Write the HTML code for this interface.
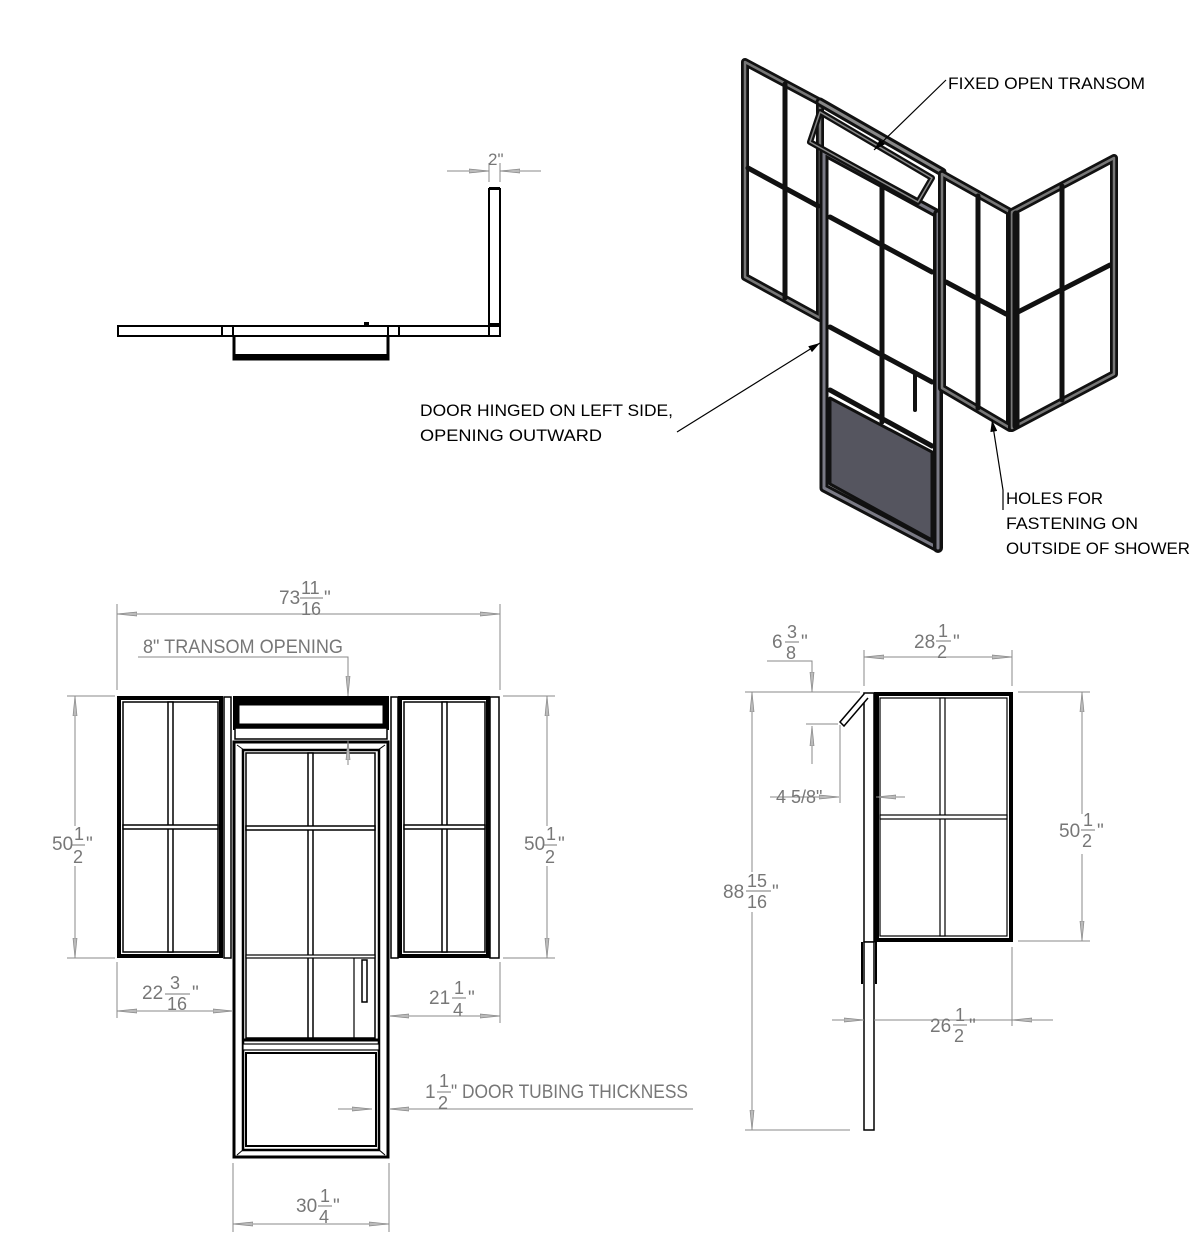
<!DOCTYPE html>
<html><head><meta charset="utf-8"><style>
html,body{margin:0;padding:0;background:#fff}
svg{display:block}
.t{font-family:"Liberation Sans",sans-serif;fill:#000}
.d{font-family:"Liberation Sans",sans-serif;fill:#777}
</style></head><body>
<svg width="1200" height="1243" viewBox="0 0 1200 1243" xmlns="http://www.w3.org/2000/svg">
<defs>
<marker id="a" viewBox="0 0 20 6" refX="20" refY="3" markerWidth="20" markerHeight="6" markerUnits="userSpaceOnUse" orient="auto-start-reverse">
<path d="M0,1 L20,3 L0,5 Z" fill="#bbb" stroke="#888" stroke-width="0.7"/></marker>
<marker id="b" viewBox="0 0 10 6" refX="10" refY="3" markerWidth="12" markerHeight="7" markerUnits="userSpaceOnUse" orient="auto">
<path d="M0,0 L10,3 L0,6 Z" fill="#000"/></marker>
</defs>
<rect width="1200" height="1243" fill="#fff"/>

<!-- ===== PLAN VIEW ===== -->
<g stroke="#000" fill="#fff" stroke-width="2">
<rect x="118" y="326" width="104" height="10"/>
<rect x="222" y="326" width="11" height="10"/>
<rect x="233" y="326" width="155" height="10"/>
<rect x="388" y="326" width="11" height="10"/>
<rect x="399" y="326" width="90" height="10"/>
<rect x="489" y="326" width="11" height="10"/>
<rect x="489" y="189" width="11" height="137"/>
</g>
<rect x="489" y="187" width="11" height="3" fill="#000"/>
<rect x="489" y="323" width="11" height="4" fill="#000"/>
<rect x="364" y="322" width="5" height="3" fill="#000"/>
<path d="M234,336 V359 H388 V336" fill="none" stroke="#000" stroke-width="3"/>
<rect x="234" y="354" width="155" height="6" fill="#000"/>
<g stroke="#888" stroke-width="1" fill="none">
<line x1="447" y1="171" x2="489" y2="171" marker-end="url(#a)"/>
<line x1="541" y1="171" x2="500" y2="171" marker-end="url(#a)"/>
<line x1="489" y1="163" x2="489" y2="182"/><line x1="500" y1="163" x2="500" y2="182"/>
</g>
<text class="d" x="488" y="165" font-size="17">2"</text>

<!-- ===== FRONT ELEVATION ===== -->
<rect x="119" y="698" width="102" height="258" fill="none" stroke="#000" stroke-width="4"/>
<rect x="123" y="702" width="95" height="250" fill="none" stroke="#000" stroke-width="1.5"/>
<rect x="168" y="702" width="5" height="250" fill="#fff" stroke="#000" stroke-width="1.5"/>
<rect x="123" y="825" width="95" height="4" fill="#fff" stroke="#000" stroke-width="1.5"/>
<rect x="224" y="697" width="7" height="261" fill="#fff" stroke="#000" stroke-width="1.5"/>
<rect x="233" y="696" width="156" height="34" fill="#000"/>
<rect x="239" y="705" width="144" height="19" fill="#fff" stroke="#000" stroke-width="1"/>
<rect x="235" y="728" width="152" height="11" fill="#fff" stroke="#000" stroke-width="1.5"/>
<rect x="234" y="742" width="154" height="415" fill="none" stroke="#000" stroke-width="3"/>
<path d="M237,745 L244,750 M385,745 L378,750 M237,1155 L244,1149 M385,1155 L378,1149" stroke="#000" stroke-width="1"/>
<rect x="243" y="750" width="136" height="400" fill="none" stroke="#000" stroke-width="2.5"/>
<rect x="246" y="753" width="129" height="285" fill="none" stroke="#000" stroke-width="1.5"/>
<rect x="308" y="753" width="5" height="285" fill="#fff" stroke="#000" stroke-width="1.5"/>
<rect x="246" y="826" width="129" height="4" fill="#fff" stroke="#000" stroke-width="1.5"/>
<rect x="246" y="955" width="129" height="3" fill="#fff" stroke="#000" stroke-width="1.2"/>
<line x1="354" y1="958" x2="354" y2="1038" stroke="#000" stroke-width="1.2"/>
<rect x="362" y="960" width="5" height="42" fill="#fff" stroke="#000" stroke-width="1.5"/>
<line x1="243" y1="1040" x2="379" y2="1040" stroke="#000" stroke-width="3"/>
<rect x="243" y="1044" width="136" height="6" fill="#fff" stroke="#000" stroke-width="1.2"/>
<rect x="246" y="1053" width="130" height="93" fill="none" stroke="#000" stroke-width="2"/>
<rect x="391" y="697" width="7" height="261" fill="#fff" stroke="#000" stroke-width="1.5"/>
<rect x="400" y="698" width="88" height="258" fill="none" stroke="#000" stroke-width="4"/>
<rect x="404" y="702" width="81" height="250" fill="none" stroke="#000" stroke-width="1.5"/>
<rect x="442" y="702" width="5" height="250" fill="#fff" stroke="#000" stroke-width="1.5"/>
<rect x="404" y="825" width="81" height="4" fill="#fff" stroke="#000" stroke-width="1.5"/>
<rect x="490" y="697" width="9" height="261" fill="#fff" stroke="#000" stroke-width="1.5"/>

<g stroke="#888" stroke-width="1" fill="none">
<line x1="117" y1="604" x2="117" y2="690"/><line x1="500" y1="604" x2="500" y2="690"/>
<line x1="117" y1="614" x2="500" y2="614" marker-start="url(#a)" marker-end="url(#a)"/>
<polyline points="138,657 348,657 348,696" marker-end="url(#a)"/>
<line x1="348" y1="765" x2="348" y2="740" marker-end="url(#a)"/>
<line x1="67" y1="696" x2="115" y2="696"/><line x1="67" y1="958" x2="115" y2="958"/>
<line x1="75" y1="696" x2="75" y2="826" marker-start="url(#a)"/><line x1="75" y1="866" x2="75" y2="958" marker-end="url(#a)"/>
<line x1="503" y1="696" x2="555" y2="696"/><line x1="503" y1="958" x2="555" y2="958"/>
<line x1="547" y1="696" x2="547" y2="826" marker-start="url(#a)"/><line x1="547" y1="866" x2="547" y2="958" marker-end="url(#a)"/>
<line x1="117" y1="962" x2="117" y2="1018"/>
<line x1="117" y1="1011" x2="233" y2="1011" marker-start="url(#a)" marker-end="url(#a)"/>
<line x1="500" y1="962" x2="500" y2="1023"/>
<line x1="389" y1="1016" x2="500" y2="1016" marker-start="url(#a)" marker-end="url(#a)"/>
<line x1="338" y1="1109" x2="372" y2="1109" marker-end="url(#a)"/>
<line x1="693" y1="1109" x2="389" y2="1109" marker-end="url(#a)"/>
<line x1="233" y1="1163" x2="233" y2="1232"/><line x1="389" y1="1163" x2="389" y2="1232"/>
<line x1="233" y1="1224" x2="389" y2="1224" marker-start="url(#a)" marker-end="url(#a)"/>
</g>
<g class="d" font-size="19">
<text x="279" y="604">73</text><text x="301" y="594" font-size="18">11</text><line x1="300" y1="598" x2="323" y2="598" stroke="#777"/><text x="301" y="615" font-size="18">16</text><text x="324" y="604">"</text>
<text x="143" y="653" textLength="200" lengthAdjust="spacingAndGlyphs">8" TRANSOM OPENING</text>
<text x="52" y="850">50</text><text x="74" y="840" font-size="18">1</text><line x1="72" y1="845" x2="85" y2="845" stroke="#777"/><text x="73" y="863" font-size="18">2</text><text x="86" y="850">"</text>
<text x="524" y="850">50</text><text x="546" y="840" font-size="18">1</text><line x1="544" y1="845" x2="557" y2="845" stroke="#777"/><text x="545" y="863" font-size="18">2</text><text x="558" y="850">"</text>
<text x="142" y="999">22</text><text x="170" y="989" font-size="18">3</text><line x1="165" y1="994" x2="190" y2="994" stroke="#777"/><text x="167" y="1010" font-size="18">16</text><text x="192" y="999">"</text>
<text x="429" y="1004">21</text><text x="454" y="994" font-size="18">1</text><line x1="452" y1="998" x2="466" y2="998" stroke="#777"/><text x="453" y="1016" font-size="18">4</text><text x="468" y="1004">"</text>
<text x="425" y="1098">1</text><text x="439" y="1087" font-size="18">1</text><line x1="437" y1="1092" x2="451" y2="1092" stroke="#777"/><text x="438" y="1109" font-size="18">2</text><text x="451" y="1098" textLength="237" lengthAdjust="spacingAndGlyphs">" DOOR TUBING THICKNESS</text>
<text x="296" y="1212">30</text><text x="320" y="1202" font-size="18">1</text><line x1="318" y1="1206" x2="332" y2="1206" stroke="#777"/><text x="319" y="1223" font-size="18">4</text><text x="333" y="1212">"</text>
</g>

<!-- ===== SIDE ELEVATION ===== -->
<rect x="864" y="693" width="10" height="249" fill="#fff" stroke="#000" stroke-width="1.5"/>
<rect x="864" y="942" width="10" height="188" fill="#fff" stroke="#000" stroke-width="1.5"/>
<path d="M862,942 V984 M876,942 V984" stroke="#000" stroke-width="2"/>
<path d="M864,694 L840,722 L844,726 L868,698" fill="#fff" stroke="#000" stroke-width="1.5"/>
<rect x="876" y="694" width="135" height="246" fill="none" stroke="#000" stroke-width="4"/>
<rect x="874" y="692" width="5" height="250" fill="#000"/>
<rect x="880" y="698" width="127" height="238" fill="none" stroke="#000" stroke-width="1.2"/>
<rect x="940" y="698" width="5" height="238" fill="#fff" stroke="#000" stroke-width="1.2"/>
<rect x="880" y="815" width="127" height="4" fill="#fff" stroke="#000" stroke-width="1.2"/>
<g stroke="#888" stroke-width="1" fill="none">
<line x1="864" y1="650" x2="864" y2="686"/><line x1="1012" y1="650" x2="1012" y2="686"/>
<line x1="864" y1="657" x2="1012" y2="657" marker-start="url(#a)" marker-end="url(#a)"/>
<polyline points="767,661 812,661 812,692" marker-end="url(#a)"/>
<line x1="745" y1="692" x2="860" y2="692"/>
<line x1="745" y1="1130" x2="850" y2="1130"/>
<line x1="752" y1="692" x2="752" y2="872" marker-start="url(#a)"/><line x1="752" y1="912" x2="752" y2="1130" marker-end="url(#a)"/>
<line x1="806" y1="724" x2="838" y2="724"/>
<line x1="812" y1="764" x2="812" y2="726" marker-end="url(#a)"/>
<line x1="840" y1="725" x2="840" y2="803"/>
<line x1="770" y1="797" x2="839" y2="797" marker-end="url(#a)"/>
<line x1="905" y1="797" x2="876" y2="797" marker-end="url(#a)"/>
<line x1="1018" y1="692" x2="1090" y2="692"/><line x1="1018" y1="941" x2="1090" y2="941"/>
<line x1="1082" y1="692" x2="1082" y2="814" marker-start="url(#a)"/><line x1="1082" y1="854" x2="1082" y2="941" marker-end="url(#a)"/>
<line x1="1012" y1="947" x2="1012" y2="1026"/>
<line x1="832" y1="1020" x2="864" y2="1020" marker-end="url(#a)"/>
<line x1="1053" y1="1020" x2="1012" y2="1020" marker-end="url(#a)"/>
<line x1="874" y1="1020" x2="1012" y2="1020"/>
</g>
<g class="d" font-size="19">
<text x="772" y="648">6</text><text x="787" y="638" font-size="18">3</text><line x1="785" y1="642" x2="799" y2="642" stroke="#777"/><text x="786" y="659" font-size="18">8</text><text x="801" y="648">"</text>
<text x="914" y="648">28</text><text x="938" y="637" font-size="18">1</text><line x1="936" y1="641" x2="951" y2="641" stroke="#777"/><text x="937" y="658" font-size="18">2</text><text x="953" y="648">"</text>
<text x="776" y="803" font-size="18">4 5/8"</text>
<text x="723" y="898">88</text><text x="747" y="887" font-size="18">15</text><line x1="746" y1="891" x2="771" y2="891" stroke="#777"/><text x="747" y="908" font-size="18">16</text><text x="772" y="898">"</text>
<text x="1059" y="837">50</text><text x="1083" y="826" font-size="18">1</text><line x1="1081" y1="830" x2="1095" y2="830" stroke="#777"/><text x="1082" y="847" font-size="18">2</text><text x="1097" y="837">"</text>
<text x="930" y="1032">26</text><text x="955" y="1021" font-size="18">1</text><line x1="953" y1="1025" x2="967" y2="1025" stroke="#777"/><text x="954" y="1042" font-size="18">2</text><text x="969" y="1032">"</text>
</g>

<!-- ===== ISOMETRIC ===== -->
<g stroke-linejoin="round" stroke-linecap="round" fill="none">
<polygon points="745,62 820,102 820,318 745,277" stroke="#111" stroke-width="8"/>
<polygon points="745,62 820,102 820,318 745,277" stroke="#777" stroke-width="2.5"/>
<g stroke="#111" stroke-width="5">
<line x1="785" y1="84" x2="785" y2="298"/>
<line x1="748" y1="168" x2="818" y2="206"/>
</g>
<line x1="820" y1="102" x2="942" y2="172" stroke="#111" stroke-width="9"/>
<line x1="820" y1="102" x2="942" y2="172" stroke="#888" stroke-width="3"/>
<polygon points="824,152 938,214 938,548 824,488" stroke="#111" stroke-width="9"/>
<polygon points="824,152 938,214 938,548 824,488" stroke="#7a7a85" stroke-width="3"/>
<line x1="938" y1="214" x2="938" y2="548" stroke="#111" stroke-width="10"/>
<line x1="938" y1="214" x2="938" y2="548" stroke="#7a7a85" stroke-width="3"/>
<polygon points="830,398 932,452 932,540 830,484" fill="#55555f" stroke="#111" stroke-width="3"/>
<g stroke="#111" stroke-width="5">
<line x1="882" y1="186" x2="882" y2="422"/>
<line x1="830" y1="217" x2="932" y2="272"/>
<line x1="830" y1="327" x2="932" y2="382"/>
<line x1="830" y1="390" x2="932" y2="446"/>
</g>
<line x1="915" y1="375" x2="915" y2="410" stroke="#111" stroke-width="4"/>
<polygon points="820,112 810,142 918,202 932,178" stroke="#111" stroke-width="6"/>
<polygon points="820,112 810,142 918,202 932,178" stroke="#888" stroke-width="1.5"/>
<polygon points="942,174 1010,212 1010,428 942,388" stroke="#111" stroke-width="8"/>
<polygon points="942,174 1010,212 1010,428 942,388" stroke="#777" stroke-width="2.5"/>
<g stroke="#111" stroke-width="5">
<line x1="978" y1="196" x2="978" y2="408"/>
<line x1="946" y1="282" x2="1006" y2="314"/>
</g>
<polygon points="1012,212 1114,158 1114,374 1012,428" stroke="#111" stroke-width="8"/>
<polygon points="1012,212 1114,158 1114,374 1012,428" stroke="#777" stroke-width="2.5"/>
<line x1="1016" y1="214" x2="1016" y2="426" stroke="#111" stroke-width="7"/>
<g stroke="#111" stroke-width="5">
<line x1="1062" y1="186" x2="1062" y2="400"/>
<line x1="1016" y1="313" x2="1110" y2="265"/>
</g>
</g>
<g stroke="#000" stroke-width="1.2" fill="none">
<line x1="946" y1="80" x2="874" y2="150" marker-end="url(#b)"/>
<line x1="677" y1="432" x2="820" y2="343" marker-end="url(#b)"/>
<polyline points="1003,510 1003,490 992,420" marker-end="url(#b)"/>
</g>
<g class="t" font-size="17">
<text x="948" y="89" textLength="197" lengthAdjust="spacingAndGlyphs">FIXED OPEN TRANSOM</text>
<text x="420" y="416" textLength="253" lengthAdjust="spacingAndGlyphs">DOOR HINGED ON LEFT SIDE,</text>
<text x="420" y="441" textLength="182" lengthAdjust="spacingAndGlyphs">OPENING OUTWARD</text>
<text x="1006" y="504" textLength="97" lengthAdjust="spacingAndGlyphs">HOLES FOR</text>
<text x="1006" y="529" textLength="132" lengthAdjust="spacingAndGlyphs">FASTENING ON</text>
<text x="1006" y="554" textLength="184" lengthAdjust="spacingAndGlyphs">OUTSIDE OF SHOWER</text>
</g>
</svg>
</body></html>
